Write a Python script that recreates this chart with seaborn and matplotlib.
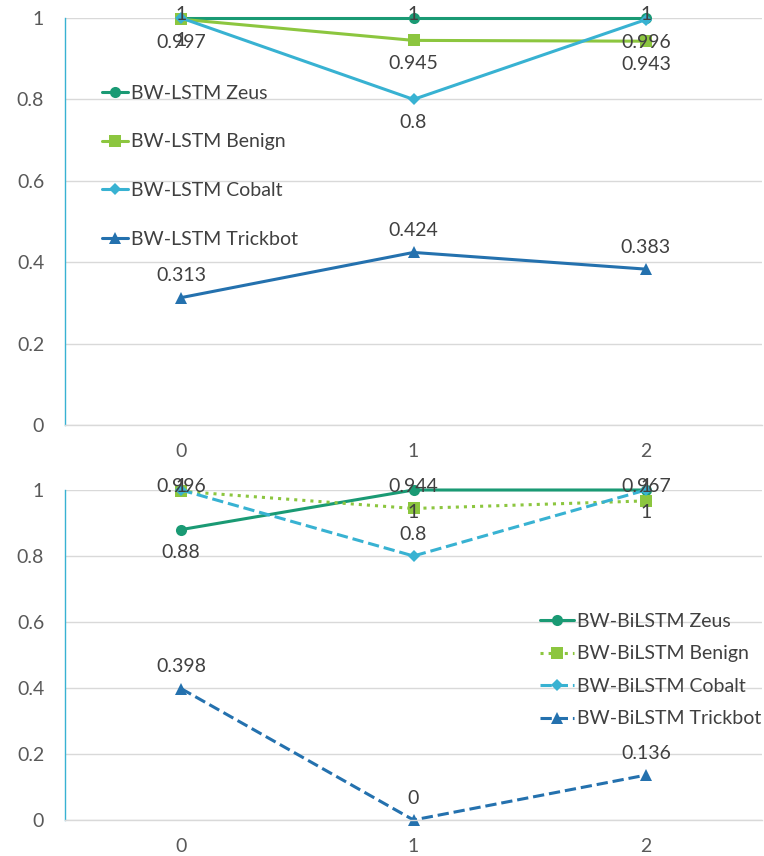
import matplotlib
matplotlib.use("Agg")
import matplotlib.pyplot as plt
import seaborn as sns
import pandas as pd

sns.set_theme(style="white")
plt.rcParams['font.family'] = ['Lato', 'DejaVu Sans']

steps = [0, 1, 2]

# BW-LSTM results
lstm_zeus = [1, 1, 1]
lstm_benign = [0.997, 0.945, 0.943]
lstm_cobalt = [1, 0.8, 0.996]
lstm_trickbot = [0.313, 0.424, 0.383]

# BW-BiLSTM results
bilstm_zeus = [0.88, 1, 1]
bilstm_benign = [0.996, 0.944, 0.967]
bilstm_cobalt = [1, 0.8, 1]
bilstm_trickbot = [0.398, 0, 0.136]

yticks = [0, 0.2, 0.4, 0.6, 0.8, 1]
ytick_labels = ["0", "0.2", "0.4", "0.6", "0.8", "1"]

C_ZEUS = "#1A9A74"
C_BENIGN = "#8CC63F"
C_COBALT = "#38B2D2"
C_TRICK = "#2471AE"
TXT = "#404040"
TICK = "#595959"
GRID = "#D9D9D9"
FS = 14

W, H = 764, 856
fig = plt.figure(figsize=(W / 100, H / 100), dpi=100)


def axes_px(left, right, top, bottom):
    ax = fig.add_axes([left / W, 1 - bottom / H, (right - left) / W, (bottom - top) / H])
    ax._px_per_unit = bottom - top
    return ax


def fmt(v):
    return f"{v:g}"


def style_axes(ax):
    ax.set_xlim(-0.5, 2.5)
    ax.set_ylim(0, 1)
    ax.set_yticks(yticks)
    ax.set_yticklabels(ytick_labels)
    ax.set_xticks(steps)
    ax.set_xticklabels([str(s) for s in steps])
    ax.grid(axis="y", color=GRID, linewidth=1.0)
    ax.set_axisbelow(True)
    for side in ["top", "right"]:
        ax.spines[side].set_visible(False)
    ax.spines["bottom"].set_color(GRID)
    ax.spines["bottom"].set_linewidth(1.0)
    ax.spines["left"].set_color(C_COBALT)
    ax.spines["left"].set_linewidth(1.0)
    ax.tick_params(axis="both", length=0, labelsize=FS, colors=TICK)
    ax.tick_params(axis="y", pad=15)
    ax.tick_params(axis="x", pad=13)
    ax.set_xlabel("")
    ax.set_ylabel("")


def draw_series(ax, values, label, color, marker, ms, ls, where, top_px):
    df = pd.DataFrame({"step": steps, "value": values})
    sns.lineplot(data=df, x="step", y="value", ax=ax, color=color, marker=marker,
                 markersize=ms, linestyle=ls, linewidth=2.2, markeredgewidth=0,
                 label=label, clip_on=False)
    ppu = ax._px_per_unit
    off_px = 22 if where == "above" else -23
    # labels are kept inside the plot area (no higher than top_px above y=1)
    y_max = 1 + top_px / ppu
    for x, v in zip(steps, values):
        y_lab = min(v + off_px / ppu, y_max)
        ax.text(x, y_lab, fmt(v), ha="center", va="center", fontsize=FS,
                color=TXT, clip_on=False)


# Top panel: BW-LSTM
ax1 = axes_px(65, 762, 18, 425)
draw_series(ax1, lstm_zeus, "BW-LSTM Zeus", C_ZEUS, "o", 8, "-", "above", 3)
draw_series(ax1, lstm_benign, "BW-LSTM Benign", C_BENIGN, "s", 8, "-", "below", 3)
draw_series(ax1, lstm_cobalt, "BW-LSTM Cobalt", C_COBALT, "D", 6, "-", "below", 3)
draw_series(ax1, lstm_trickbot, "BW-LSTM Trickbot", C_TRICK, "^", 8, "-", "above", 3)
style_axes(ax1)
leg1 = ax1.legend(loc="upper left", bbox_to_anchor=(94 / W, 1 - 77 / H),
                  bbox_transform=fig.transFigure, frameon=False, fontsize=FS,
                  labelspacing=1.63, handlelength=1.35, handletextpad=0.15,
                  borderaxespad=0)
for t in leg1.get_texts():
    t.set_color(TXT)

# Bottom panel: BW-BiLSTM
ax2 = axes_px(65, 762, 490, 820)
draw_series(ax2, bilstm_zeus, "BW-BiLSTM Zeus", C_ZEUS, "o", 8, "-", "below", 4)
draw_series(ax2, bilstm_benign, "BW-BiLSTM Benign", C_BENIGN, "s", 8, ":", "above", 4)
draw_series(ax2, bilstm_cobalt, "BW-BiLSTM Cobalt", C_COBALT, "D", 6, "--", "above", 4)
draw_series(ax2, bilstm_trickbot, "BW-BiLSTM Trickbot", C_TRICK, "^", 8, "--", "above", 4)
style_axes(ax2)
leg2 = ax2.legend(loc="upper left", bbox_to_anchor=(532 / W, 1 - 605 / H),
                  bbox_transform=fig.transFigure, frameon=False, fontsize=FS,
                  labelspacing=0.8, handlelength=1.75, handletextpad=0.15,
                  borderaxespad=0)
for t in leg2.get_texts():
    t.set_color(TXT)

fig.savefig("out.png", dpi=100)
